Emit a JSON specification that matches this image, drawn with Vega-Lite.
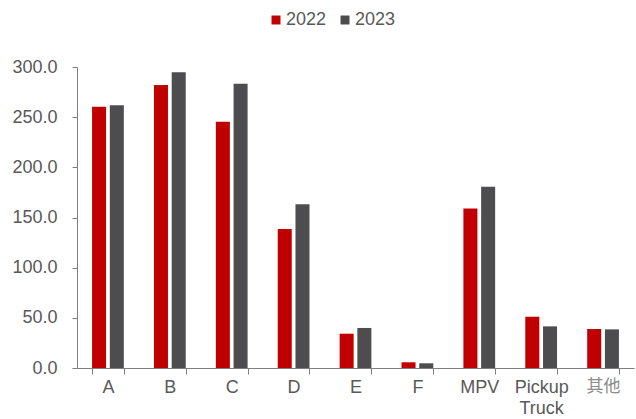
{
  "$schema": "https://vega.github.io/schema/vega-lite/v6.json",
  "width": 557,
  "height": 301,
  "autosize": {"type": "none"},
  "padding": {"left": 77, "top": 67, "right": 2, "bottom": 51},
  "config": {
    "view": {"stroke": null},
    "font": "Liberation Sans, Arial, Noto Sans CJK SC"
  },
  "data": {
    "values": [
      {"cat": "A", "year": "2022", "value": 260.4},
      {"cat": "A", "year": "2023", "value": 261.8},
      {"cat": "B", "year": "2022", "value": 282.1},
      {"cat": "B", "year": "2023", "value": 294.7},
      {"cat": "C", "year": "2022", "value": 245.4},
      {"cat": "C", "year": "2023", "value": 283.2},
      {"cat": "D", "year": "2022", "value": 138.5},
      {"cat": "D", "year": "2023", "value": 163.2},
      {"cat": "E", "year": "2022", "value": 34.2},
      {"cat": "E", "year": "2023", "value": 39.9},
      {"cat": "F", "year": "2022", "value": 5.7},
      {"cat": "F", "year": "2023", "value": 4.7},
      {"cat": "MPV", "year": "2022", "value": 158.9},
      {"cat": "MPV", "year": "2023", "value": 180.7},
      {"cat": "Pickup Truck", "year": "2022", "value": 51.1},
      {"cat": "Pickup Truck", "year": "2023", "value": 41.5},
      {"cat": "其他", "year": "2022", "value": 38.9},
      {"cat": "其他", "year": "2023", "value": 38.5}
    ]
  },
  "mark": {"type": "bar"},
  "encoding": {
    "x": {
      "field": "cat",
      "type": "nominal",
      "sort": null,
      "scale": {"paddingInner": 0.487, "paddingOuter": 0.2435},
      "axis": {
        "title": null,
        "labelAngle": 0,
        "tickBand": "extent",
        "domainColor": "#7f7f7f",
        "tickColor": "#7f7f7f",
        "tickSize": 6,
        "labelFontSize": {"condition": {"test": "datum.value == '其他'", "value": 17}, "value": 18},
        "labelColor": {"condition": {"test": "datum.value == '其他'", "value": "#8c8c8c"}, "value": "#595959"},
        "labelPadding": 4,
        "labelLineHeight": 21,
        "labelExpr": "datum.value == 'Pickup Truck' ? ['Pickup', 'Truck'] : datum.value"
      }
    },
    "xOffset": {
      "field": "year",
      "type": "nominal",
      "scale": {"paddingInner": 0.21}
    },
    "y": {
      "field": "value",
      "type": "quantitative",
      "scale": {"domain": [0, 300], "nice": false},
      "axis": {
        "title": null,
        "grid": false,
        "values": [0, 50, 100, 150, 200, 250, 300],
        "format": ".1f",
        "labelFontSize": 18,
        "labelColor": "#595959",
        "labelPadding": 15,
        "tickSize": 5,
        "domainColor": "#7f7f7f",
        "tickColor": "#7f7f7f"
      }
    },
    "color": {
      "field": "year",
      "type": "nominal",
      "scale": {"range": ["#C00000", "#4D4D4F"]},
      "legend": {
        "title": null,
        "orient": "none",
        "legendX": 190,
        "legendY": -56,
        "direction": "horizontal",
        "symbolType": "square",
        "symbolSize": 81,
        "symbolStrokeWidth": 0,
        "labelFontSize": 18,
        "labelColor": "#595959",
        "labelOffset": 1,
        "columnPadding": 9
      }
    }
  }
}
